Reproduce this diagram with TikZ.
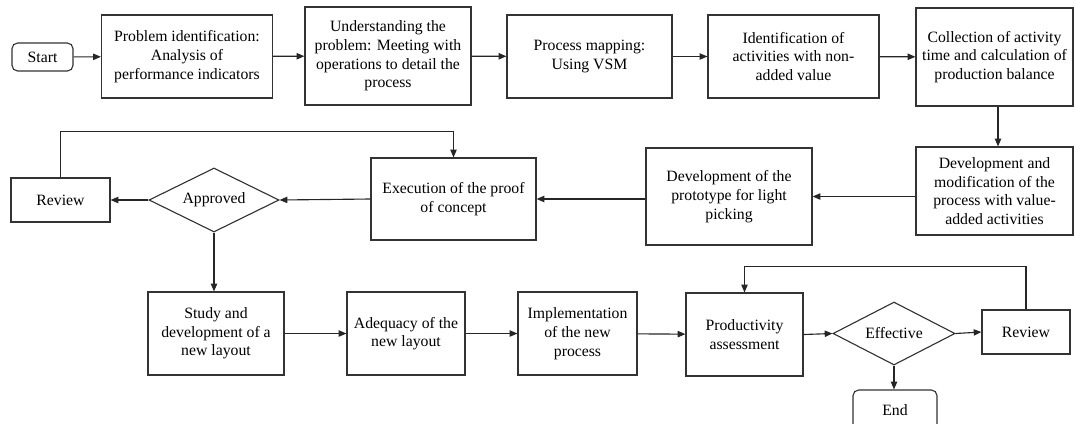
\documentclass[tikz,border=0pt]{standalone}
\usepackage{fontspec}
\setmainfont{Liberation Serif}
\usepackage{tikz}
\usetikzlibrary{shapes.geometric}
\usetikzlibrary{arrows.meta}

\begin{document}
\begin{tikzpicture}[x=0.025cm, y=-0.025cm,
    font=\fontsize{11.2}{13.3}\selectfont,
    every node/.style={draw=black!80, line width=0.8pt, align=center, inner sep=1pt},
    box/.style={rectangle},
    decision/.style={diamond, aspect=2},
    terminal/.style={rectangle, rounded corners=4pt},
    arr/.style={draw=black!85, line width=0.8pt, -{Triangle[length=5.5pt,width=4.5pt]}}]
  \useasboundingbox (0,0) rectangle (1075,423);
  \clip (0,0) rectangle (1075,423);
  % first row
  \node[terminal, minimum width=1.525cm, minimum height=0.7cm] (start) at (42.5,57) {Start};
  \node[box, minimum width=4.275cm, minimum height=2.075cm] (ident) at (187,56.5)
    {Problem identification:\\Analysis of\\performance indicators};
  \node[box, minimum width=4.15cm, minimum height=2.45cm] (underst) at (388,56)
    {Understanding the\\problem: Meeting with\\operations to detail the\\process};
  \node[box, minimum width=4.125cm, minimum height=2.075cm] (mapping) at (589.5,56.5)
    {Process mapping:\\Using VSM};
  \node[box, minimum width=4.275cm, minimum height=2.075cm] (nonval) at (793.5,56.5)
    {Identification of\\activities with non-\\added value};
  \node[box, minimum width=3.925cm, minimum height=2.45cm] (collect) at (994.5,57)
    {Collection of activity\\time and calculation of\\production balance};
  % second row
  \node[box, minimum width=3.925cm, minimum height=2.2cm] (modif) at (994.5,191)
    {Development and\\modification of the\\process with value-\\added activities};
  \node[box, minimum width=4.15cm, minimum height=2.425cm] (proto) at (729,196.5)
    {Development of the\\prototype for light\\picking};
  \node[box, minimum width=4.125cm, minimum height=2.05cm] (proof) at (453.5,199)
    {Execution of the proof\\of concept};
  \node[decision, minimum width=3.25cm, minimum height=1.6cm] (approved) at (214,200) {Approved};
  \node[box, minimum width=2.475cm, minimum height=1.1cm] (review) at (60.5,200) {Review};
  % third row
  \node[box, minimum width=3.4cm, minimum height=2.075cm] (study) at (216,333.5)
    {Study and\\development of a\\new layout};
  \node[box, minimum width=2.95cm, minimum height=2.075cm] (adequacy) at (406,333.5)
    {Adequacy of the\\new layout};
  \node[box, minimum width=2.975cm, minimum height=2.075cm] (implement) at (577.5,333.5)
    {Implementation\\of the new\\process};
  \node[box, minimum width=2.925cm, minimum height=2.075cm] (assess) at (744.5,334.5)
    {Productivity\\assessment};
  \node[decision, minimum width=3.05cm, minimum height=1.575cm] (effective) at (894,333.5) {Effective};
  \node[box, minimum width=2.2cm, minimum height=1.1cm] (review2) at (1026,332) {Review};
  \node[terminal, minimum width=2.1cm, minimum height=1.0cm] (finish) at (895,410) {End};
  % connectors
  \draw[arr] (start) -- (ident);
  \draw[arr] (ident) -- (underst);
  \draw[arr] (underst) -- (mapping);
  \draw[arr] (mapping) -- (nonval);
  \draw[arr] (nonval) -- (collect);
  \draw[arr] (collect.south -| 998,0) -- (modif.north -| 998,0);
  \draw[arr] (proto.east -| modif.west) -- (proto.east);
  \draw[arr] (proof.east -| proto.west) -- (proof.east);
  \draw[arr] (proof.west) -- (approved.east);
  \draw[arr] (approved.west) -- (review.east);
  \draw[arr] (review.north) -- ++(0,-46) -| (proof.north);
  \draw[arr] (approved.south) -- (approved.south |- study.north);
  \draw[arr] (study) -- (adequacy);
  \draw[arr] (adequacy) -- (implement);
  \draw[arr] (implement) -- (assess);
  \draw[arr] (assess.east) -- (effective.west);
  \draw[arr] (effective.east) -- (review2.west);
  \draw[arr] (effective.south) -- (effective.south |- finish.north);
  \draw[arr] (review2.north) -- ++(0,-43) -| (assess.north);
\end{tikzpicture}
\end{document}
